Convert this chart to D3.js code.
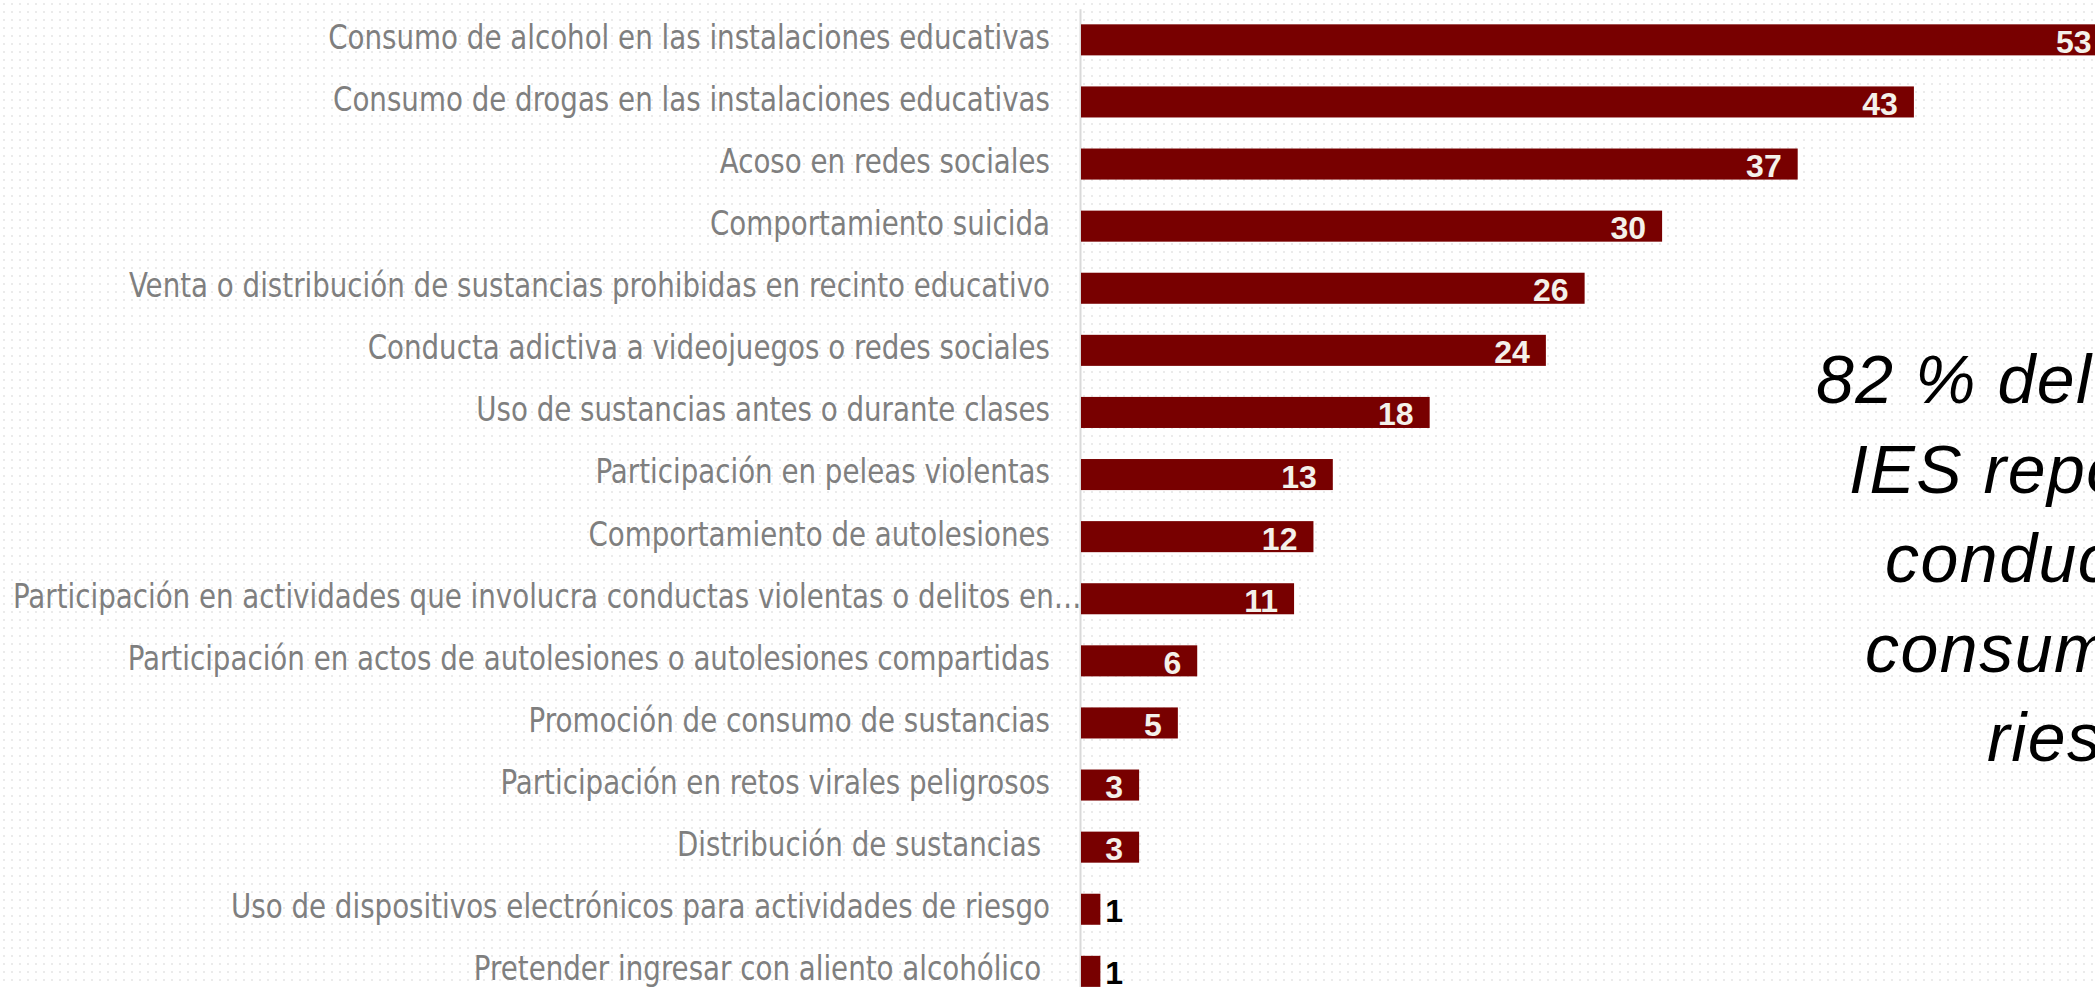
<!DOCTYPE html>
<html><head><meta charset="utf-8">
<script src="https://cdn.jsdelivr.net/npm/d3@7"></script>
<style>html,body{margin:0;padding:0;background:#fff;overflow:hidden}</style>
</head><body><svg id="chart" width="2095" height="987"></svg>
<script>
const categories = [
  "Consumo de alcohol en las instalaciones educativas",
  "Consumo de drogas en las instalaciones educativas",
  "Acoso en redes sociales",
  "Comportamiento suicida",
  "Venta o distribución de sustancias prohibidas en recinto educativo",
  "Conducta adictiva a videojuegos o redes sociales",
  "Uso de sustancias antes o durante clases",
  "Participación en peleas violentas",
  "Comportamiento de autolesiones",
  "Participación en actividades que involucra conductas violentas o delitos en…",
  "Participación en actos de autolesiones o autolesiones compartidas",
  "Promoción de consumo de sustancias",
  "Participación en retos virales peligrosos",
  "Distribución de sustancias ",
  "Uso de dispositivos electrónicos para actividades de riesgo",
  "Pretender ingresar con aliento alcohólico "
];
const values = [53, 43, 37, 30, 26, 24, 18, 13, 12, 11, 6, 5, 3, 3, 1, 1];
const annotationLines = ["82 % del total de", "IES reportaron", "conductas y", "consumos de", "riesgo"];

const W = 2095, H = 987;
const svg = d3.select("#chart");
const defs = svg.append("defs");
const pat = defs.append("pattern").attr("id", "dots")
  .attr("width", 8).attr("height", 8).attr("patternUnits", "userSpaceOnUse");
pat.append("rect").attr("width", 8).attr("height", 8).attr("fill", "#ffffff");
pat.append("rect").attr("x", 3).attr("y", 3).attr("width", 2).attr("height", 2).attr("fill", "#ebebeb");
svg.append("rect").attr("width", W).attr("height", H).attr("fill", "url(#dots)");

const data = categories.map((c, i) => ({ c, v: values[i] }));

const x = d3.scaleLinear().domain([0, 53]).range([1081, 1081 + 53 * 19.37]);
const y = d3.scaleBand().domain(categories).range([8.8, 1002.4]).paddingInner(0.5).paddingOuter(0.25);

// axis line
const axis = svg.append("g").attr("transform", "translate(1080,0)")
  .call(d3.axisLeft(y).tickSize(0).tickFormat(""));
axis.select(".domain").attr("stroke", "#d9d9d9").attr("stroke-width", 2);

// bars
svg.append("g").selectAll("rect").data(data).join("rect")
  .attr("x", x(0))
  .attr("y", d => y(d.c))
  .attr("width", d => x(d.v) - x(0))
  .attr("height", y.bandwidth())
  .attr("fill", "#780000");

// category labels
const labelRight = 1050, labelLeft = 13, labelSize = 33;
const labels = svg.append("g").selectAll("text").data(data).join("text")
  .attr("font-family", "'Liberation Sans Narrow','Arial Narrow','DejaVu Sans Condensed',sans-serif")
  .attr("font-size", labelSize)
  .attr("fill", "#7f7f7f")
  .style("white-space", "pre")
  .text(d => d.c);
const w0 = labels.nodes()[0].getComputedTextLength();
const sx = 722 / w0;
labels.each(function (d) {
  const w = this.getComputedTextLength() * sx;
  const yb = y(d.c) + y.bandwidth() / 2 + 0.27 * labelSize;
  if (labelRight - w < labelLeft) {
    d3.select(this).attr("text-anchor", "start")
      .attr("transform", `translate(${labelLeft},${yb}) scale(${sx},1)`);
  } else {
    d3.select(this).attr("text-anchor", "end")
      .attr("transform", `translate(${labelRight},${yb}) scale(${sx},1)`);
  }
});

// value labels
const inside = d => x(d.v) - x(0) > 40;
svg.append("g").selectAll("text").data(data).join("text")
  .attr("font-family", "'Liberation Sans',Arial,sans-serif")
  .attr("font-weight", "bold")
  .attr("font-size", 32)
  .attr("dominant-baseline", "central")
  .attr("y", d => y(d.c) + y.bandwidth() / 2 + 2)
  .attr("x", d => inside(d) ? x(d.v) - 16 : x(d.v) + 5)
  .attr("text-anchor", d => inside(d) ? "end" : "start")
  .attr("fill", d => inside(d) ? "#f4f1ea" : "#000000")
  .text(d => d.v);

// annotation (centred block whose right half runs past the page edge)
const annLeft = [1816, 1849, 1885, 1865, 1987];
svg.append("g").selectAll("text").data(annotationLines).join("text")
  .attr("font-family", "'Liberation Sans',Arial,sans-serif")
  .attr("font-style", "italic")
  .attr("font-size", 68)
  .attr("letter-spacing", 1.5)
  .attr("fill", "#000")
  .attr("text-anchor", "start")
  .attr("x", (d, i) => annLeft[i])
  .attr("y", (d, i) => 403 + i * 89.5)
  .text(d => d);
</script>
</body></html>
